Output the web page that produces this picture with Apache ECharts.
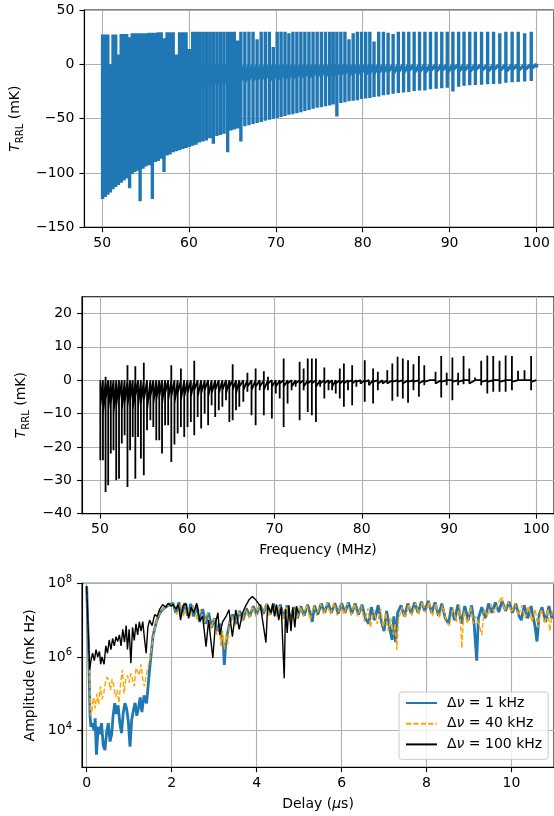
<!DOCTYPE html>
<html>
<head>
<meta charset="utf-8">
<script src="https://cdn.jsdelivr.net/npm/echarts@6/dist/echarts.min.js"></script>
<style>
html, body { margin: 0; padding: 0; background: #fff; }
#chart { width: 554px; height: 816px; }
</style>
</head>
<body>
<div id="chart"></div>
<script>
// ---- line groups (MHz), shared by the two spectra ----
const lineFreq = [50.05, 50.35, 50.65, 50.95, 51.25, 51.56, 51.87, 52.19, 52.51, 52.83,
  53.16, 53.46, 53.76, 54.06, 54.37, 54.70, 55.03, 55.40, 55.78, 56.12,
  56.46, 56.80, 57.12, 57.47, 57.82, 58.18, 58.54, 58.91, 59.28, 59.66,
  60.04, 60.42, 60.81, 61.20, 61.60, 62.00, 62.40, 62.80, 63.21, 63.62,
  64.03, 64.45, 64.83, 65.21, 65.59, 65.97, 66.43, 66.90, 67.37, 67.84,
  68.31, 68.78, 69.25, 69.70, 70.15, 70.60, 71.05, 71.50, 71.96, 72.42,
  72.88, 73.34, 73.81, 74.28, 74.75, 75.23, 75.71, 76.19, 76.60, 77.02,
  77.48, 77.95, 78.42, 78.90, 79.38, 79.86, 80.34, 80.82, 81.30, 81.84,
  82.38, 82.92, 83.50, 84.10, 84.70, 85.30, 85.92, 86.54, 87.16, 87.80,
  88.45, 89.10, 89.73, 90.38, 91.04, 91.66, 92.32, 92.97, 93.68, 94.38,
  95.06, 95.78, 96.48, 97.20, 97.90, 98.64, 99.40, 100.0]

// ---- top panel: 1 kHz spectrum (mK) ----
const topPeak = [27.5, 27.5, 27.5, 1, 27.5, 27.5, 9, 28, 28, 28,
  25, 28.5, 28.5, 28.5, 28.5, 28.5, 28.5, 29, 29, 29,
  29.5, 29.5, 24, 29.5, 29.5, 29.5, 9, 29.5, 29.5, 29.5,
  14, 30, 30, 30, 30, 30, 30, 30, 30, 30,
  30, 30, 30, 30, 22, 30, 30, 30, 30, 23,
  30, 30, 30, 16, 30, 30, 30, 28.5, 30, 30,
  30, 30, 30, 30, 30, 30, 30, 30, 30, 30,
  30, 30, 23, 28.5, 30, 30, 30, 30, 21, 30,
  30, 29, 28, 30, 30, 30, 30, 30, 30, 30,
  30, 30, 30, 30, 30, 30, 30, 30, 30, 30,
  30, 28.5, 30, 30, 30, 28.5, 30, 0]
const topTrough = [-124, -122, -120, -118, -115, -113, -111, -109, -107, -105,
  -114, -101, -99, -98, -126, -96, -94, -93, -124, -90,
  -89, -87, -99, -84, -83, -81, -80, -79, -78, -77,
  -76, -75, -74, -72, -71, -70, -68, -73, -66, -65,
  -64, -81, -61, -60, -59, -71, -57, -56, -55, -54,
  -53, -52, -51, -50, -49.5, -48.5, -47.5, -46.5, -46, -45,
  -44, -43, -42, -41, -40, -39.5, -38.5, -38, -37, -48,
  -35.5, -35, -34, -33.5, -33, -32, -31.5, -31, -30, -29.5,
  -28.5, -28, -27, -26.5, -26, -25.5, -24.6, -24.2, -24, -23,
  -22.4, -22, -21.5, -25, -20.6, -19.7, -19.3, -19, -18.7, -18.3,
  -18, -17.8, -17, -16.6, -16.3, -15.8, -15.4, -3]
const topShelf = [-40, -42, -38, -40, -36, -40, -38, -35, -38, -36,
  -34, -32, -35, -30, -33, -31, -30, -28, -30, -29,
  -27, -26, -28, -25, -26, -24, -25, -23, -24, -22,
  -22, -21, -22, -20, -21, -19, -20, -18, -19, -18,
  -18, -17, -18, -16, -17, -16, -17, -15, -16, -15,
  -15, -14, -16, -14, -15, -13, -14, -13, -14, -12,
  -13, -12, -13, -11, -12, -11, -12, -10, -11, -10,
  -10, -9, -11, -9, -10, -8, -10, -8, -9, -8,
  -8, -7, -9, -7, -8, -6, -8, -7, -8, -6,
  -7, -6, -8, -5, -7, -6, -7, -5, -6, -7,
  -5, -6, -7, -5, -6, -5, -4, 0]

// ---- middle panel: 100 kHz spectrum (mK) ----
const midUp = [0, 0, 1, 0.5, 0, 0, 0, 0, 0, 0,
  4.5, 0, 0, 4.2, 0, 0, 5.2, 0, 0, 0,
  0.5, 0.5, 0, 0, 0, 4.5, 0, 0, 3.5, 0,
  0, 0, 5.8, 0, 0, 0, 0, 0, 0, 0,
  0, 0, 0, 4.8, 0, 0, 0, 2.2, 0, 3.5,
  0, 2.7, 1, 0, 0, 0, 6.5, 0, 0, 0,
  5.5, 3.5, 6.5, 6.5, 6.5, 0.5, 3.8, 0, 0.5, 0,
  3.5, 5, 0, 4.5, 0, 0, 6, 0, 3.5, 2.5,
  0, 3, 5, 7, 6.5, 6, 4.8, 7.2, 4.5, 0,
  2.5, 7.2, 2.2, 6.8, 2.2, 7.2, 3.5, 0.8, 5.8, 7.4,
  7.2, 5.8, 7.4, 7.2, 2.8, 3, 7.2, 0]
const midDown = [-24, -24, -33.5, -31.5, -22, -21, -30, -29.5, -19, -16.5,
  -32, -21, -17, -29.5, -17, -23.5, -28.5, -15, -12, -14,
  -18, -18, -22, -13.5, -13.5, -24.5, -19.3, -16, -14, -17,
  -14, -12.5, -16.5, -11, -14.5, -10, -13.5, -7.5, -11, -9,
  -8, -6, -12.5, -12, -9, -8, -6.5, -3.5, -10.5, -13.5,
  -3, -10.5, -3, -11.5, -4, -5.5, -14, -7, -3, -2,
  -12, -3, -9.5, -10.5, -12.5, -2, -5.5, -3, -3, -4,
  -5.5, -8, -3, -7.5, -2, 0, -6.5, -1.5, -7, -3,
  -1, 0, -6.2, -5, -5.5, -6.8, -3, -5, -1.5, 0,
  -1, -5.2, -1.5, -6, -1.5, -1.2, -1, 0, -1.5, -4,
  -3.5, -3.5, -3.5, -3, 0, 0, -3, 0]
const midShelf = [-8, -10, -6, -9, -7, -10, -8, -6, -9, -7,
  -8, -6, -9, -5, -8, -7, -6, -9, -5, -7,
  -6, -5, -7, -4, -6, -5, -7, -4, -6, -5,
  -4, -5, -3, -5, -4, -3, -5, -4, -3, -4,
  -3, -4, -2, -3, -4, -2, -3, -2, -3, -2,
  -2, -3, -1, -2, -2, -1, -2, -1, -2, -1,
  -1, -2, -1, -1, -2, -1, -1, -1, -2, -1,
  -1, -1, -0.5, -1, -0.5, -1, -0.5, -1, -0.5, -1,
  -0.5, -1, -0.5, -0.5, -1, -0.5, -0.5, -1, -0.5, 0,
  -0.5, -0.5, 0, -0.5, -0.5, 0, -0.5, 0, -0.5, -0.5,
  0, -0.5, 0, -0.5, 0, 0, -0.5, 0]

// ---- bottom panel: delay spectra, log10 of amplitude (mK Hz) ----
const blueDelay = [0.00, 0.05, 0.08, 0.10, 0.12, 0.15, 0.18, 0.20, 0.23, 0.27,
  0.31, 0.35, 0.39, 0.43, 0.47, 0.51, 0.55, 0.59, 0.62, 0.66,
  0.70, 0.74, 0.78, 0.82, 0.86, 0.90, 0.94, 0.98, 1.02, 1.06,
  1.10, 1.14, 1.18, 1.22, 1.26, 1.30, 1.35, 1.41, 1.48, 1.56,
  1.64, 1.72, 1.80, 1.88, 1.95, 2.03, 2.10, 2.17, 2.24, 2.31,
  2.38, 2.45, 2.52, 2.59, 2.66, 2.73, 2.80, 2.87, 2.94, 3.01,
  3.08, 3.14, 3.19, 3.22, 3.24, 3.27, 3.31, 3.37, 3.44, 3.52,
  3.60, 3.68, 3.76, 3.84, 3.92, 4.00, 4.08, 4.16, 4.24, 4.32,
  4.40, 4.48, 4.56, 4.64, 4.72, 4.80, 4.88, 4.96, 5.04, 5.12,
  5.20, 5.28, 5.31, 5.36, 5.44, 5.52, 5.60, 5.68, 5.76, 5.84,
  5.92, 6.00, 6.08, 6.16, 6.24, 6.32, 6.40, 6.48, 6.56, 6.64,
  6.70, 6.78, 6.86, 6.94, 7.00, 7.06, 7.12, 7.19, 7.23, 7.27,
  7.32, 7.40, 7.48, 7.56, 7.64, 7.72, 7.80, 7.88, 7.96, 8.04,
  8.12, 8.20, 8.28, 8.36, 8.44, 8.52, 8.58, 8.66, 8.74, 8.82,
  8.90, 8.98, 9.06, 9.12, 9.18, 9.22, 9.30, 9.38, 9.46, 9.54,
  9.62, 9.70, 9.78, 9.86, 9.94, 10.02, 10.10, 10.18, 10.23, 10.30,
  10.38, 10.46, 10.55, 10.60, 10.65, 10.72, 10.80, 10.88, 10.95, 11.02]
const blueLog = [7.92, 6.0, 4.38, 4.10, 4.2, 4.24, 4.0, 4.33, 3.34, 4.1,
  3.9, 4.2, 3.6, 3.47, 3.95, 4.2, 3.7, 3.9, 4.38, 4.74,
  4.45, 4.68, 4.2, 3.93, 4.47, 4.74, 4.6, 4.25, 3.56, 4.3,
  4.55, 4.75, 4.4, 4.62, 4.9, 4.5, 4.95, 4.74, 5.65, 6.56,
  6.95, 7.19, 7.3, 7.37, 7.42, 7.46, 7.2, 7.48, 7.15, 7.46,
  7.12, 7.44, 7.1, 7.4, 6.95, 7.3, 6.9, 7.2, 6.8, 7.05,
  6.7, 6.9, 6.4, 6.28, 5.78, 6.3, 6.6, 6.95, 7.15, 6.9,
  7.25, 7.0, 7.32, 7.1, 7.38, 7.15, 7.42, 7.18, 7.44, 7.15,
  7.45, 7.12, 7.42, 7.05, 7.4, 7.0, 7.35, 7.05, 7.38, 7.12,
  7.42, 7.1, 6.95, 7.4, 7.15, 7.45, 7.2, 7.47, 7.2, 7.46,
  7.18, 7.46, 7.2, 7.48, 7.18, 7.45, 7.15, 7.42, 7.05, 6.9,
  7.35, 7.0, 7.4, 6.95, 6.7, 7.25, 6.85, 6.46, 7.1, 6.4,
  7.2, 7.4, 7.1, 7.45, 7.18, 7.48, 7.2, 7.5, 7.25, 7.52,
  7.2, 7.48, 7.12, 7.45, 7.05, 6.9, 7.35, 7.0, 7.42, 6.9,
  7.38, 7.0, 7.4, 6.9, 5.9, 7.05, 7.35, 7.05, 7.45, 7.2,
  7.48, 7.22, 7.52, 7.25, 7.5, 7.2, 7.45, 7.1, 7.0, 7.4,
  7.05, 7.38, 6.85, 6.42, 7.15, 7.35, 6.95, 7.38, 7.05, 7.3]
const orangeDelay = [0.00, 0.05, 0.09, 0.12, 0.16, 0.20, 0.24, 0.28, 0.32, 0.36,
  0.40, 0.44, 0.48, 0.52, 0.56, 0.60, 0.64, 0.68, 0.72, 0.76,
  0.80, 0.84, 0.88, 0.92, 0.96, 1.00, 1.04, 1.08, 1.12, 1.16,
  1.20, 1.24, 1.28, 1.32, 1.36, 1.42, 1.48, 1.56, 1.64, 1.72,
  1.80, 1.88, 1.96, 2.04, 2.12, 2.20, 2.28, 2.36, 2.44, 2.52,
  2.60, 2.68, 2.76, 2.84, 2.92, 3.00, 3.06, 3.12, 3.16, 3.20,
  3.24, 3.28, 3.32, 3.36, 3.42, 3.50, 3.58, 3.66, 3.74, 3.82,
  3.90, 3.98, 4.06, 4.14, 4.22, 4.30, 4.38, 4.46, 4.54, 4.62,
  4.70, 4.78, 4.86, 4.94, 5.02, 5.10, 5.18, 5.26, 5.34, 5.42,
  5.50, 5.58, 5.66, 5.74, 5.82, 5.90, 5.98, 6.06, 6.14, 6.22,
  6.30, 6.38, 6.46, 6.54, 6.62, 6.68, 6.76, 6.84, 6.92, 6.98,
  7.04, 7.10, 7.16, 7.22, 7.26, 7.30, 7.34, 7.42, 7.50, 7.58,
  7.66, 7.74, 7.82, 7.90, 7.98, 8.06, 8.14, 8.22, 8.30, 8.38,
  8.46, 8.54, 8.62, 8.70, 8.78, 8.83, 8.88, 8.96, 9.04, 9.10,
  9.16, 9.24, 9.30, 9.36, 9.44, 9.52, 9.60, 9.68, 9.77, 9.84,
  9.92, 10.00, 10.08, 10.16, 10.24, 10.32, 10.40, 10.48, 10.56, 10.62,
  10.70, 10.78, 10.86, 10.90, 10.96, 11.02]
const orangeLog = [7.9, 6.2, 4.4, 4.5, 4.9, 4.6, 5.0, 4.7, 5.2, 4.85,
  5.0, 5.3, 5.45, 5.35, 5.1, 5.4, 5.2, 4.9, 5.1, 4.75,
  5.3, 5.65, 5.0, 5.4, 5.5, 5.3, 5.55, 5.6, 5.2, 5.7,
  5.75, 5.5, 5.8, 5.4, 5.2, 5.6, 5.9, 6.5, 6.95, 7.2,
  7.3, 7.38, 7.4, 7.44, 7.15, 7.45, 7.1, 7.43, 7.1, 7.4,
  7.0, 7.3, 6.85, 7.2, 6.75, 7.05, 6.6, 6.85, 6.3, 6.7,
  6.2, 6.6, 6.35, 6.9, 7.1, 6.85, 7.22, 6.95, 7.32, 7.05,
  7.38, 7.1, 7.42, 7.12, 7.43, 7.1, 7.44, 7.1, 7.4, 7.0,
  7.38, 6.95, 7.35, 7.0, 7.38, 7.1, 7.42, 7.0, 7.4, 7.12,
  7.45, 7.15, 7.46, 7.15, 7.47, 7.12, 7.45, 7.15, 7.47, 7.12,
  7.44, 7.1, 7.4, 6.95, 7.32, 6.8, 7.28, 6.9, 7.3, 6.8,
  7.2, 6.7, 7.05, 6.6, 6.9, 6.19, 7.0, 7.35, 7.05, 7.44,
  7.12, 7.47, 7.15, 7.5, 7.2, 7.5, 7.1, 7.45, 7.05, 7.4,
  7.0, 6.85, 7.35, 6.95, 7.38, 6.24, 7.25, 6.9, 7.36, 6.9,
  7.1, 6.85, 6.6, 7.3, 7.1, 7.42, 7.2, 7.45, 7.64, 7.25,
  7.5, 7.2, 7.45, 7.12, 7.4, 7.05, 7.38, 6.95, 7.3, 6.8,
  7.3, 6.9, 7.3, 6.7, 7.2, 7.3]
const blackDelay = [0.00, 0.04, 0.07, 0.10, 0.14, 0.18, 0.22, 0.26, 0.30, 0.33,
  0.36, 0.41, 0.45, 0.49, 0.53, 0.57, 0.61, 0.65, 0.69, 0.73,
  0.77, 0.81, 0.85, 0.89, 0.93, 0.96, 1.00, 1.04, 1.08, 1.12,
  1.16, 1.20, 1.24, 1.28, 1.32, 1.36, 1.40, 1.44, 1.48, 1.54,
  1.60, 1.66, 1.72, 1.79, 1.86, 1.92, 1.98, 2.03, 2.10, 2.16,
  2.21, 2.27, 2.34, 2.40, 2.46, 2.52, 2.59, 2.66, 2.73, 2.81,
  2.87, 2.97, 3.03, 3.09, 3.13, 3.20, 3.28, 3.35, 3.43, 3.51,
  3.59, 3.67, 3.74, 3.82, 3.90, 3.98, 4.09, 4.22, 4.26, 4.30,
  4.34, 4.38, 4.42, 4.47, 4.52, 4.58, 4.65, 4.68, 4.72, 4.76,
  4.81, 4.85, 4.90, 4.94, 4.98]
const blackLog = [7.92, 6.6, 5.65, 5.9, 6.1, 5.9, 6.2, 6.0, 6.15, 5.8,
  6.0, 5.8, 6.3, 6.1, 6.46, 6.2, 6.5, 6.3, 6.55, 6.42,
  6.6, 6.3, 6.75, 6.4, 6.85, 6.2, 6.75, 5.83, 6.8, 6.45,
  6.9, 6.6, 6.95, 6.7, 6.96, 6.5, 6.1, 6.8, 7.0, 6.85,
  7.15, 7.1, 7.3, 7.42, 7.35, 7.46, 7.38, 7.42, 7.3, 7.42,
  7.0, 7.4, 7.45, 7.05, 7.35, 7.2, 7.46, 6.98, 7.1, 6.28,
  7.0, 5.97, 6.9, 7.2, 6.6, 6.95, 7.1, 7.28, 6.55, 7.28,
  6.75, 7.2, 7.38, 7.55, 7.64, 7.55, 7.38, 6.39, 7.4, 7.42,
  7.2, 7.45, 7.1, 7.42, 7.0, 7.35, 5.42, 7.3, 6.65, 7.4,
  6.7, 7.35, 6.8, 7.38, 7.2]

const freqTicks = [50, 60, 70, 80, 90, 100]
const topTicks = [-150, -100, -50, 0, 50]
const midTicks = [-40, -30, -20, -10, 0, 10, 20]
const delayTicks = [0, 2, 4, 6, 8, 10]
const ampTicks = [4, 6, 8]
const legendNames = ['1 kHz', '40 kHz', '100 kHz']

// each line group: up to the peak, down to the trough, back via the shelf
function spikes (hi, lo, shelf) {
  const out = []
  lineFreq.forEach((f, i) => {
    out.push([f, 0], [f, hi[i]], [f, lo[i]], [f, shelf[i]])
  })
  return out
}
const topData = spikes(topPeak, topTrough, topShelf)
const midData = spikes(midUp, midDown, midShelf)
const pair = (xs, ys) => xs.map((x, i) => [x, ys[i]])

const FONT = 'DejaVu Sans'
const GRID = '#b0b0b0'
const minus = v => String(v).replace('-', '\u2212')

const tickStyle = { color: '#000', width: 1.1 }
const labelBase = { color: '#000', fontFamily: FONT, fontSize: 14 }

function xAxisCfg (gi, min, max, ticks, name) {
  return {
    type: 'value', gridIndex: gi, min, max,
    axisLine: { show: true, onZero: false, lineStyle: tickStyle },
    axisTick: { show: true, length: 4.9, lineStyle: tickStyle, customValues: ticks },
    axisLabel: Object.assign({ margin: 9, customValues: ticks, formatter: minus }, labelBase),
    splitLine: { show: true, lineStyle: { color: GRID, width: 1.1 } },
    name: name || '', nameLocation: 'middle', nameGap: 30,
    nameTextStyle: {
      color: '#000', fontFamily: FONT, fontSize: 14,
      rich: {
        n: { fontFamily: FONT, fontSize: 14, color: '#000' },
        it: { fontFamily: FONT, fontSize: 14, fontStyle: 'italic', color: '#000' }
      }
    }
  }
}
function yAxisCfg (gi, min, max, ticks, name, gap, fmt) {
  return {
    type: 'value', gridIndex: gi, min, max,
    axisLine: { show: true, onZero: false, lineStyle: tickStyle },
    axisTick: { show: true, length: 4.9, lineStyle: tickStyle, customValues: ticks },
    axisLabel: Object.assign({
      margin: 10, customValues: ticks, formatter: fmt || minus,
      rich: {
        b: { fontFamily: FONT, fontSize: 14, color: '#000', lineHeight: 18 },
        s: { fontFamily: FONT, fontSize: 10, color: '#000', lineHeight: 10, verticalAlign: 'top' }
      }
    }, labelBase),
    splitLine: { show: true, lineStyle: { color: GRID, width: 1.1 } },
    name, nameLocation: 'middle', nameGap: gap, nameRotate: 90,
    nameTextStyle: {
      color: '#000', fontFamily: FONT, fontSize: 14,
      rich: {
        n: { fontFamily: FONT, fontSize: 14, color: '#000', lineHeight: 20 },
        it: { fontFamily: FONT, fontSize: 14, fontStyle: 'italic', color: '#000', lineHeight: 20 },
        sub: { fontFamily: FONT, fontSize: 10, color: '#000', lineHeight: 10, verticalAlign: 'bottom' }
      }
    }
  }
}

const gridBase = { left: 82, width: 474, show: true, borderColor: '#000', borderWidth: 1.1, backgroundColor: 'transparent', containLabel: false }

const option = {
  animation: false,
  backgroundColor: '#fff',
  grid: [
    Object.assign({ top: 10, height: 217.3 }, gridBase),
    Object.assign({ top: 296.7, height: 217 }, gridBase),
    Object.assign({ top: 583.3, height: 184 }, gridBase)
  ],
  xAxis: [
    xAxisCfg(0, 47.95, 102.02, freqTicks),
    xAxisCfg(1, 47.95, 102.02, freqTicks, '{n|Frequency (MHz)}'),
    xAxisCfg(2, -0.11, 11.0, delayTicks, '{n|Delay (}{it|\u03bc}{n|s)}')
  ],
  yAxis: [
    yAxisCfg(0, -150, 50, topTicks, '{it|T}{sub|RRL}{n| (mK)}', 51),
    yAxisCfg(1, -40, 25, midTicks, '{it|T}{sub|RRL}{n| (mK)}', 42),
    yAxisCfg(2, 3, 8, ampTicks, '{n|Amplitude (mK Hz)}', 37, v => '{b|10}{s|' + v + '}')
  ],
  legend: {
    show: true, orient: 'vertical', left: 399, top: 692,
    data: legendNames,
    itemWidth: 31, itemHeight: 14, itemGap: 6.7,
    padding: [4, 6, 8, 6],
    itemStyle: { opacity: 0 },
    backgroundColor: 'rgba(255,255,255,0.8)', borderColor: '#cccccc', borderWidth: 1, borderRadius: 3,
    formatter: name => '{d|\u0394}{it|\u03bd}{n| = ' + name + '}',
    textStyle: {
      color: '#000', fontFamily: FONT, fontSize: 14, padding: [0, 0, 0, 5],
      rich: {
        d: { fontFamily: FONT, fontSize: 14, color: '#000' },
        it: { fontFamily: FONT, fontSize: 14, fontStyle: 'italic', color: '#000' },
        n: { fontFamily: FONT, fontSize: 14, color: '#000' }
      }
    }
  },
  series: [
    {
      type: 'line', xAxisIndex: 0, yAxisIndex: 0, data: topData,
      symbol: 'none', silent: true, lineStyle: { color: '#1f77b4', width: 3.4 }
    },
    {
      type: 'line', xAxisIndex: 1, yAxisIndex: 1, data: midData,
      symbol: 'none', silent: true, lineStyle: { color: '#000', width: 1.8 }
    },
    {
      name: legendNames[0], type: 'line', xAxisIndex: 2, yAxisIndex: 2, data: pair(blueDelay, blueLog),
      symbol: 'none', silent: true, color: '#1f77b4', lineStyle: { color: '#1f77b4', width: 2.8 }
    },
    {
      name: legendNames[1], type: 'line', xAxisIndex: 2, yAxisIndex: 2, data: pair(orangeDelay, orangeLog),
      symbol: 'none', silent: true, color: '#ffa500', lineStyle: { color: '#ffa500', width: 1.4, type: [5.2, 2.2] }
    },
    {
      name: legendNames[2], type: 'line', xAxisIndex: 2, yAxisIndex: 2, data: pair(blackDelay, blackLog),
      symbol: 'none', silent: true, color: '#000', lineStyle: { color: '#000', width: 1.4 }
    }
  ]
}

const chart = echarts.init(document.getElementById('chart'), null, { renderer: 'canvas' })
chart.setOption(option)
</script>
</body>
</html>
